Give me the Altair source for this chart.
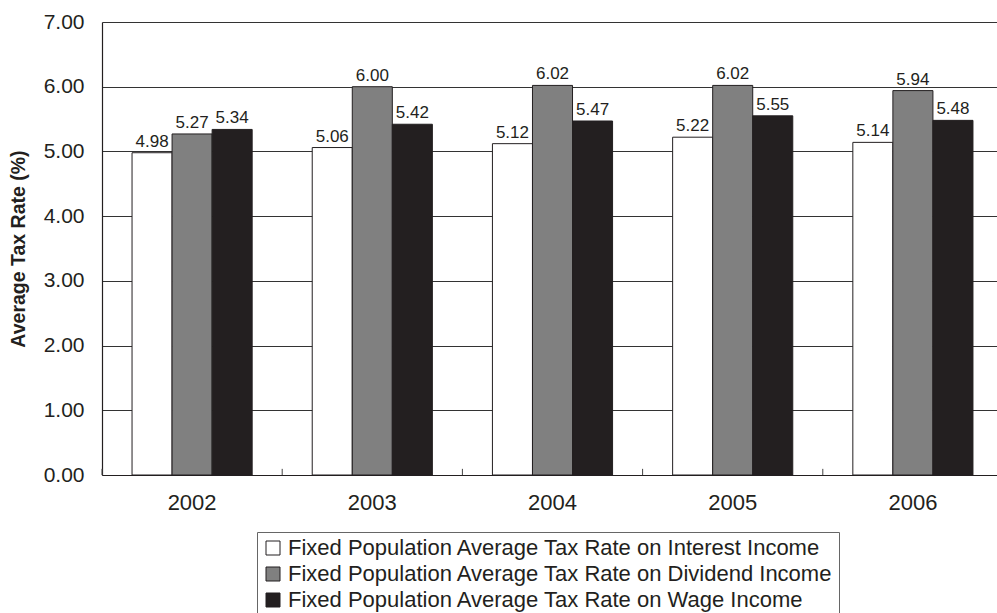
import altair as alt
import pandas as pd

years = ["2002", "2003", "2004", "2005", "2006"]
series = [
    "Fixed Population Average Tax Rate on Interest Income",
    "Fixed Population Average Tax Rate on Dividend Income",
    "Fixed Population Average Tax Rate on Wage Income",
]
interest = [4.98, 5.06, 5.12, 5.22, 5.14]
dividend = [5.27, 6.00, 6.02, 6.02, 5.94]
wage = [5.34, 5.42, 5.47, 5.55, 5.48]
colors = ["#ffffff", "#808080", "#231f20"]
y_ticks = [0, 1, 2, 3, 4, 5, 6, 7]

rows = []
for s, vals in zip(series, [interest, dividend, wage]):
    for yr, v in zip(years, vals):
        rows.append({"year": yr, "series": s, "value": v})
df = pd.DataFrame(rows)
ticks_df = pd.DataFrame({"year": years})

FONT = "Liberation Sans"
W, H = 895, 453

xscale = alt.Scale(domain=years, range=[0, 901], paddingInner=0, paddingOuter=0)
offscale = alt.Scale(domain=series, paddingInner=0, paddingOuter=0.75)

x_enc = alt.X(
    "year:N",
    scale=xscale,
    sort=years,
    title=None,
    axis=alt.Axis(
        labelFontSize=22, labelColor="#231f20", labelPadding=17, ticks=False,
        domainColor="#231f20", domainWidth=1.2, labelAngle=0, grid=False,
    ),
)
y_enc = alt.Y(
    "value:Q",
    scale=alt.Scale(domain=[0, 7], nice=False),
    title="Average Tax Rate (%)",
    axis=alt.Axis(
        values=y_ticks, format=".2f", labelFontSize=21, labelColor="#231f20",
        labelPadding=18, ticks=False, domainColor="#231f20", domainWidth=1.2,
        grid=True, gridColor="#333333", gridWidth=1,
        titleFontSize=19.5, titleFontWeight="bold", titleColor="#231f20",
        titlePadding=15,
    ),
)

bars = alt.Chart(df).mark_bar(stroke="#231f20", strokeWidth=1).encode(
    x=x_enc,
    xOffset=alt.XOffset("series:N", scale=offscale, sort=series),
    y=y_enc,
    fill=alt.Fill(
        "series:N",
        scale=alt.Scale(domain=series, range=colors),
        sort=series,
        legend=alt.Legend(
            title=None, orient="none", legendX=155, legendY=510,
            labelFontSize=22, labelColor="#231f20", labelFont=FONT,
            labelLimit=1000,
            symbolType="square", symbolSize=196, symbolStrokeColor="#231f20",
            symbolStrokeWidth=1, rowPadding=4, labelOffset=4,
            strokeColor="#666666", padding=5, symbolOpacity=1,
        ),
    ),
)

labels = alt.Chart(df).mark_text(
    dy=-11, fontSize=17, color="#231f20", font=FONT
).encode(
    x=alt.X("year:N", scale=xscale, sort=years),
    xOffset=alt.XOffset("series:N", scale=offscale, sort=series),
    y=alt.Y("value:Q"),
    text=alt.Text("value:Q", format=".2f"),
)

ticks = alt.Chart(ticks_df).mark_rule(color="#444444", strokeWidth=1).encode(
    x=alt.X("year:N", scale=xscale, sort=years, bandPosition=0),
    y=alt.datum(0),
    y2=alt.datum(0.095),
)

chart = alt.layer(bars, ticks, labels).properties(
    width=W, height=H,
    autosize=alt.AutoSizeParams(type="none"),
    padding={"left": 102, "top": 22, "right": 0, "bottom": 138},
).configure(font=FONT).configure_view(stroke=None)

chart.save("out.html", embed_options={"renderer": "svg", "actions": False})
